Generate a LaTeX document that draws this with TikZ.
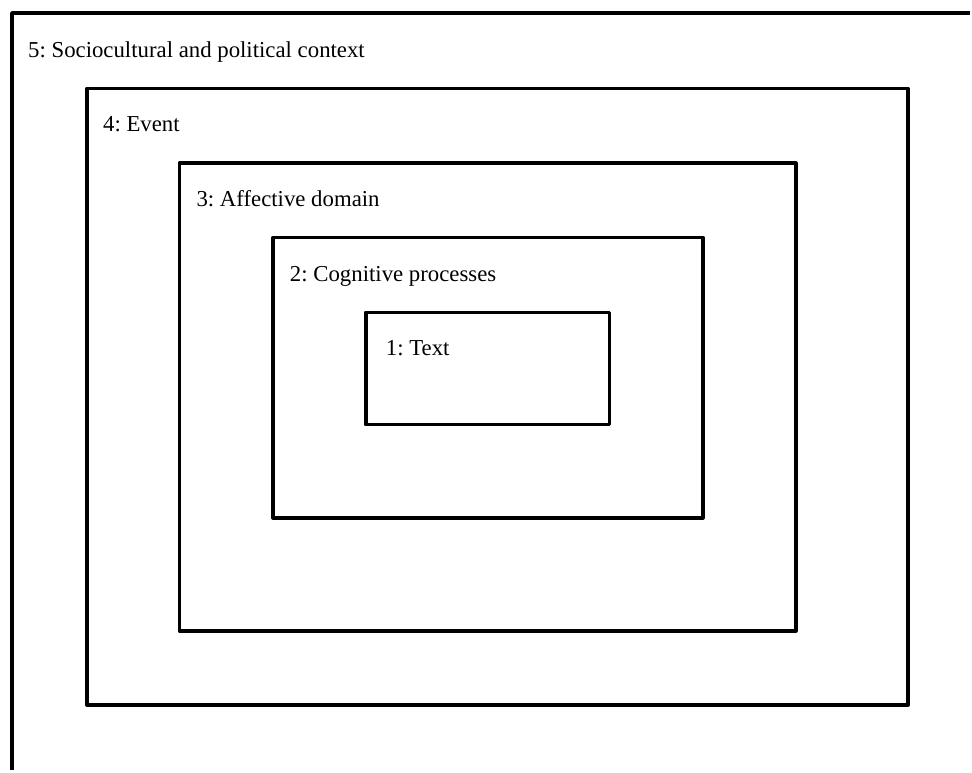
\documentclass[tikz,border=0pt]{standalone}
\usepackage{fontspec}
\setmainfont{Liberation Serif}
\frenchspacing

\tikzset{
  layer/.style={line width=3.6bp, line join=round},
  lbl/.style={anchor=base west, inner sep=0pt, font=\fontsize{22.8bp}{27bp}\selectfont}
}

\begin{document}
\begin{tikzpicture}[x=1bp, y=-1bp]

\fill[white] (0,0) rectangle (972,772);

% outer layer runs off the page to the right and below
\draw[layer] (12.0,771.0) -- (12.0,13.0) -- (971.0,13.0);
\node[lbl] (context) at (28.0,58.0) {5: Sociocultural and political context};
\draw[layer] (87.0,88.5) rectangle (908.7,705.5);
\node[lbl] (event) at (103.0,131.7) {4: Event};
\draw[layer] (179.5,163.3) rectangle (796.5,631.5);
\node[lbl] (affect) at (196.5,206.7) {3: Affective domain};
\draw[layer] (273.3,237.7) rectangle (703.3,518.3);
\node[lbl] (cognit) at (290.0,281.7) {2: Cognitive processes};
\draw[layer] (366.0,312.7) rectangle (610.0,425.0);
\node[lbl] (text) at (386.0,356.0) {1: Text};

\end{tikzpicture}
\end{document}
